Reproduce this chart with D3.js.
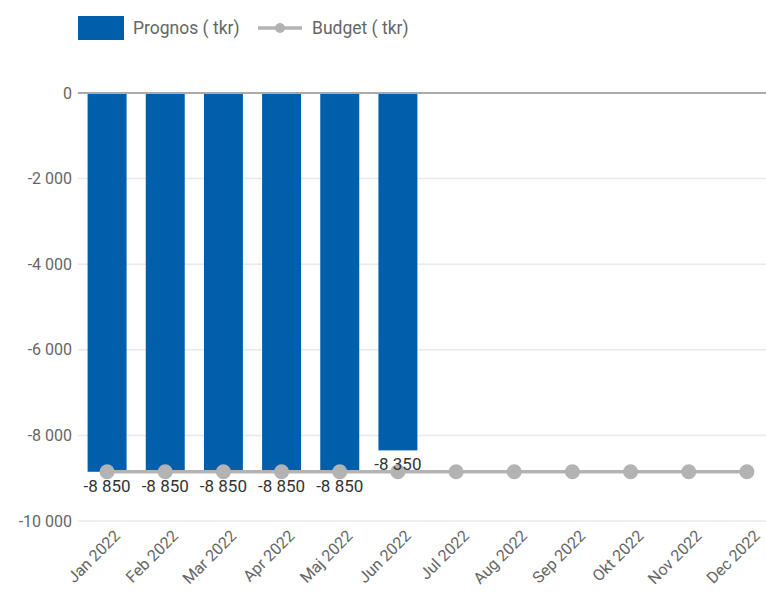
<!DOCTYPE html>
<html lang="sv">
<head>
  <meta charset="utf-8">
  <title>Prognos vs Budget</title>
  <script src="https://d3js.org/d3.v7.min.js"></script>
  <style>
    body { margin: 0; background: #fff; font-family: Roboto, "Open Sans", sans-serif; }
    svg text { font-family: Roboto, "Open Sans", sans-serif; }
  </style>
</head>
<body>
  <div id="container"></div>
  <script>
    var months = ["Jan 2022", "Feb 2022", "Mar 2022", "Apr 2022", "Maj 2022", "Jun 2022",
      "Jul 2022", "Aug 2022", "Sep 2022", "Okt 2022", "Nov 2022", "Dec 2022"];
    var prognos = [-8850, -8850, -8850, -8850, -8850, -8350];
    var budget = [-8850, -8850, -8850, -8850, -8850, -8850, -8850, -8850, -8850, -8850, -8850, -8850];
    var yTicks = [0, -2000, -4000, -6000, -8000, -10000];

    var w = 766, h = 592;
    var svg = d3.select("#container").append("svg")
      .attr("width", w).attr("height", h);

    var x = d3.scaleBand().domain(months).range([78, 776]).paddingInner(0.33).paddingOuter(0.165);
    var y = d3.scaleLinear().domain([-10000, 0]).range([521, 93]);
    // swedish style: space as thousands separator, plain hyphen as minus
    var fmt = function(v) { return d3.format(",")(v).replace(/,/g, " ").replace("\u2212", "-"); };

    // gridlines
    svg.append("g").selectAll("line")
      .data(yTicks.filter(function(d) { return d !== 0; }))
      .join("line")
      .attr("x1", 78).attr("x2", w)
      .attr("y1", function(d) { return y(d); }).attr("y2", function(d) { return y(d); })
      .attr("stroke", "#e8e8ee").attr("stroke-width", 1.5);

    // y labels
    svg.append("g").selectAll("text")
      .data(yTicks).join("text")
      .attr("x", 72).attr("y", function(d) { return y(d); })
      .attr("dy", "0.35em").attr("text-anchor", "end")
      .attr("font-size", 16).attr("fill", "#666")
      .text(fmt);

    // bars
    svg.append("g").selectAll("rect")
      .data(prognos).join("rect")
      .attr("x", function(d, i) { return x(months[i]); })
      .attr("width", x.bandwidth())
      .attr("y", y(0))
      .attr("height", function(d) { return y(d) - y(0); })
      .attr("fill", "#005eab");

    // zero line
    svg.append("line")
      .attr("x1", 78).attr("x2", w).attr("y1", y(0)).attr("y2", y(0))
      .attr("stroke", "#aaa").attr("stroke-width", 2);

    // budget line
    var cx = function(d, i) { return x(months[i]) + x.bandwidth() / 2; };
    svg.append("path")
      .datum(budget)
      .attr("d", d3.line().x(cx).y(function(d) { return y(d); }))
      .attr("fill", "none").attr("stroke", "#b3b3b3").attr("stroke-width", 3.5);
    svg.append("g").selectAll("circle")
      .data(budget).join("circle")
      .attr("cx", cx).attr("cy", function(d) { return y(d); })
      .attr("r", 7.5).attr("fill", "#b3b3b3");

    // bar labels
    svg.append("g").selectAll("text")
      .data(prognos).join("text")
      .attr("x", cx).attr("y", function(d) { return y(d) + 20; })
      .attr("text-anchor", "middle").attr("font-size", 17).attr("fill", "#333")
      .text(fmt);

    // x labels
    svg.append("g").selectAll("text")
      .data(months).join("text")
      .attr("transform", function(d) { return "translate(" + (x(d) + x.bandwidth() / 2 + 10) + ",533) rotate(-45)"; })
      .attr("text-anchor", "end").attr("dy", "0.35em")
      .attr("font-size", 16).attr("fill", "#666")
      .text(function(d) { return d; });

    // legend
    var lg = svg.append("g");
    lg.append("rect").attr("x", 78).attr("y", 16).attr("width", 46).attr("height", 24).attr("fill", "#005eab");
    lg.append("text").attr("x", 133).attr("y", 28).attr("dy", "0.35em")
      .attr("font-size", 17.5).attr("fill", "#666").text("Prognos ( tkr)");
    lg.append("line").attr("x1", 258).attr("x2", 302).attr("y1", 28).attr("y2", 28)
      .attr("stroke", "#b3b3b3").attr("stroke-width", 3.5);
    lg.append("circle").attr("cx", 280).attr("cy", 28).attr("r", 5).attr("fill", "#b3b3b3");
    lg.append("text").attr("x", 312).attr("y", 28).attr("dy", "0.35em")
      .attr("font-size", 17.5).attr("fill", "#666").text("Budget ( tkr)");
  </script>
</body>
</html>
